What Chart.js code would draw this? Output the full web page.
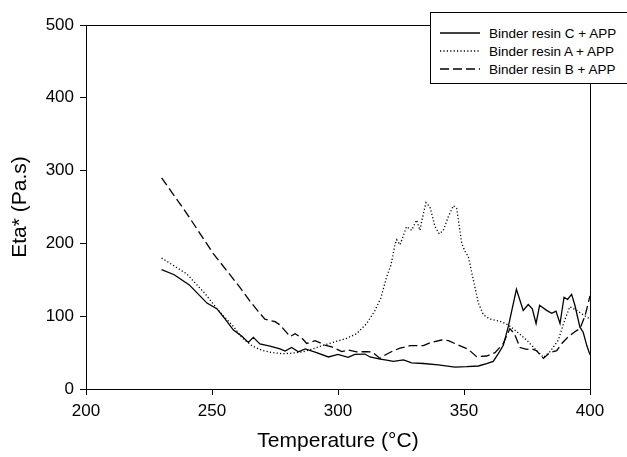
<!DOCTYPE html>
<html>
<head>
<meta charset="utf-8">
<script src="https://cdn.jsdelivr.net/npm/chart.js@4/dist/chart.umd.min.js"></script>
<style>
  html, body { margin: 0; padding: 0; background: #fff; }
  #wrap { position: relative; width: 627px; height: 457px; overflow: hidden; }
  #legend {
    position: absolute; left: 430px; top: 12px; width: 210px; height: 70px;
    border: 1px solid #000; background: #fff;
    font-family: "Liberation Sans", Arial, sans-serif; font-size: 13.5px; color: #000;
  }
  .row { position: absolute; left: 0; height: 18px; display: flex; align-items: center; }
  .row svg { margin-left: 9px; margin-right: 9px; }
</style>
</head>
<body>
<div id="wrap">
  <canvas id="chart" width="627" height="457"></canvas>
  <div id="legend"></div>
</div>
<script>
// Binder resin C + APP (solid)
const tempC = [230, 235, 241, 248, 252, 255, 258.5, 262, 264.4, 266.4, 269, 273, 277, 279, 281.6, 284.3, 287, 291.5, 296.2, 300, 304, 306.7, 310.7, 312.7, 316.7, 318.7, 322, 326, 329.2, 333.9, 339.8, 346.4, 351, 355.7, 359, 361.6, 363.5, 365.6, 367.6, 370.8, 373.5, 375.5, 377.1, 378.6, 380, 382.8, 384.8, 386.5, 388.1, 389.7, 391.1, 392.7, 394, 396, 397.3, 398.7, 400];
const etaC = [164, 157, 143, 118, 110, 97, 81, 72, 64, 71, 62, 59, 55, 52, 57, 51, 55, 50, 44, 47.6, 43.5, 47.6, 48, 44, 41, 40, 38, 40, 36, 35, 33, 30, 30.6, 31.6, 35, 38, 48, 60, 86, 137, 108, 116, 110, 90, 115, 108, 104, 107, 90, 126, 123, 130, 115, 85, 78, 60, 47];

// Binder resin A + APP (dotted)
const tempA = [230, 240, 247, 253, 258.5, 262, 266, 270, 274, 278, 281, 286, 290, 294, 299, 303.4, 307.4, 311.4, 314.7, 317, 319.3, 321, 322.6, 323.3, 324.6, 327.2, 329.2, 331.2, 332.5, 333.2, 334.9, 336.5, 338.5, 340.2, 341.8, 343.8, 345.8, 347.1, 349.1, 350.4, 351.7, 353.7, 355.7, 357.7, 360.3, 364.3, 367.6, 370.9, 374.9, 378.2, 381.5, 384.1, 387.4, 390, 392, 394.7, 397.3, 400];
const etaA = [180, 158, 132, 106, 86, 70, 59, 53, 50, 48.5, 49, 51, 55, 60, 65, 69.6, 76, 90, 108, 125, 154, 170, 198, 205, 198, 223, 218, 232, 218, 230, 256, 250, 223, 213, 218, 237, 252, 248, 200, 189, 182, 150, 118, 102, 96, 93, 88, 79, 67, 55, 43.5, 51, 67, 95, 113, 108, 102, 96];

// Binder resin B + APP (dashed)
const tempB = [230, 240, 250.5, 261, 265, 268, 271, 275, 277, 281, 283, 285.6, 287.6, 290.9, 294.8, 297.5, 301.5, 304, 307.4, 311.4, 313.5, 316.7, 318.7, 322, 324.6, 328.6, 333.9, 336.5, 341.1, 343.8, 347.7, 351.7, 355, 359, 362.3, 365.6, 368.2, 370, 372.2, 374.9, 377, 378.8, 381.5, 384.1, 386.8, 388.8, 391.4, 394, 396, 398, 400];
const etaB = [290, 241, 186, 140, 121, 108, 96, 92.5, 88, 72, 76, 70, 62.6, 66.4, 60.4, 58, 51.3, 53.6, 51, 51.3, 51, 42, 46.7, 52.6, 56, 59.5, 59.5, 63.6, 67.3, 66.4, 60.4, 54.5, 44.4, 45.3, 50, 62.6, 83, 76, 57, 54.5, 55, 52.6, 42, 50, 52.6, 62.6, 71.8, 78.7, 83, 100, 128];

const xTicks = [200, 250, 300, 350, 400];
const yTicks = [0, 100, 200, 300, 400, 500];

const seriesNames = ["Binder resin C + APP", "Binder resin A + APP", "Binder resin B + APP"];
const seriesDash = [[], [1.2, 2.2], [9, 4]];

const fontFamily = '"Liberation Sans", Arial, sans-serif';
const toPoints = (xs, ys) => xs.map((x, i) => ({ x: x, y: ys[i] }));

// top and right edges of the plot frame
const framePlugin = {
  id: "frame",
  afterDraw(chart) {
    const { ctx, chartArea } = chart;
    ctx.save();
    ctx.strokeStyle = "#000";
    ctx.lineWidth = 1;
    ctx.beginPath();
    ctx.moveTo(chartArea.left, chartArea.top + 0.5);
    ctx.lineTo(chartArea.right + 0.5, chartArea.top + 0.5);
    ctx.lineTo(chartArea.right + 0.5, chartArea.bottom);
    ctx.stroke();
    ctx.restore();
  },
};

const datasets = [toPoints(tempC, etaC), toPoints(tempA, etaA), toPoints(tempB, etaB)].map((pts, i) => ({
  label: seriesNames[i],
  data: pts,
  borderColor: "#000",
  borderWidth: 1.3,
  borderDash: seriesDash[i],
  pointRadius: 0,
  tension: 0,
  fill: false,
}));

new Chart(document.getElementById("chart"), {
  type: "line",
  data: { datasets: datasets },
  plugins: [framePlugin],
  options: {
    responsive: false,
    animation: false,
    layout: { padding: { top: 25, right: 37, left: 0, bottom: 0 } },
    plugins: { legend: { display: false }, tooltip: { enabled: false } },
    scales: {
      x: {
        type: "linear",
        min: 200,
        max: 400,
        afterBuildTicks: (scale) => { scale.ticks = xTicks.map((v) => ({ value: v })); },
        afterFit: (scale) => { scale.height = 68; },
        grid: { display: true, drawOnChartArea: false, drawTicks: true, tickLength: 6, color: "#000" },
        border: { display: true, color: "#000", width: 1 },
        ticks: { color: "#000", padding: 6, maxRotation: 0, font: { family: fontFamily, size: 17 } },
        title: {
          display: true,
          text: "Temperature (°C)",
          color: "#000",
          font: { family: fontFamily, size: 21 },
          padding: { top: 0, bottom: 3 },
        },
      },
      y: {
        type: "linear",
        min: 0,
        max: 500,
        afterBuildTicks: (scale) => { scale.ticks = yTicks.map((v) => ({ value: v })); },
        afterFit: (scale) => { scale.width = 86; },
        grid: { display: true, drawOnChartArea: false, drawTicks: true, tickLength: 6, color: "#000" },
        border: { display: true, color: "#000", width: 1 },
        ticks: { color: "#000", padding: 6, font: { family: fontFamily, size: 17 } },
        title: {
          display: true,
          text: "Eta* (Pa.s)",
          color: "#000",
          font: { family: fontFamily, size: 21 },
          padding: { top: 8, bottom: 0 },
        },
      },
    },
  },
});

// legend box in the top right corner
const legend = document.getElementById("legend");
const rowTops = [11, 29, 47];
seriesNames.forEach((name, i) => {
  const row = document.createElement("div");
  row.className = "row";
  row.style.top = rowTops[i] + "px";
  const dash = seriesDash[i].length ? seriesDash[i].join(" ") : "none";
  row.innerHTML =
    '<svg width="40" height="4"><line x1="0" y1="2" x2="40" y2="2" stroke="#000" stroke-width="1.3" stroke-dasharray="' +
    dash + '"/></svg><span>' + name + "</span>";
  legend.appendChild(row);
});
</script>
</body>
</html>
